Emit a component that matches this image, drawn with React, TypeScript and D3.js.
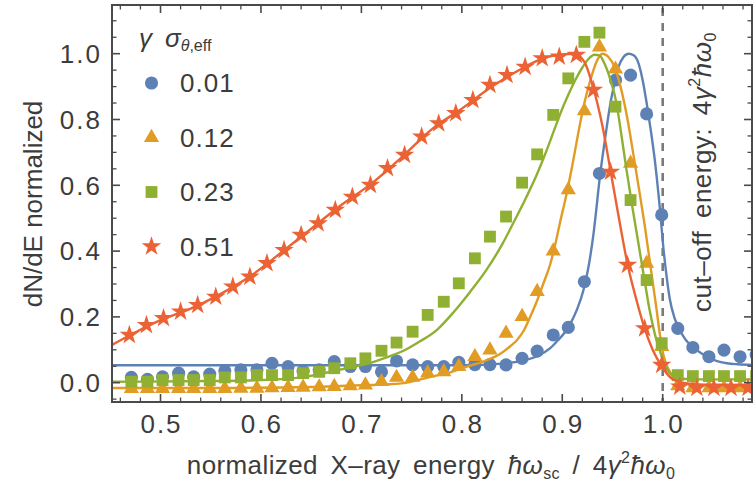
import React from 'react';
import * as d3 from 'd3';

// ---------- data ----------
const gridX = [0.471, 0.487, 0.502, 0.518, 0.533, 0.549, 0.564, 0.580, 0.596, 0.611, 0.627, 0.642, 0.658, 0.673, 0.689, 0.704, 0.720, 0.735, 0.751, 0.766, 0.782, 0.797, 0.813, 0.828, 0.844, 0.860, 0.875, 0.891, 0.906, 0.922, 0.937, 0.953, 0.968, 0.984, 0.999, 1.015, 1.030, 1.046, 1.061, 1.077, 1.093];

const blueY = [0.016, 0.010, 0.018, 0.029, 0.018, 0.026, 0.036, 0.039, 0.039, 0.059, 0.049, 0.035, 0.039, 0.064, 0.049, 0.049, 0.033, 0.066, 0.054, 0.049, 0.049, 0.062, 0.055, 0.055, 0.054, 0.074, 0.096, 0.145, 0.168, 0.307, 0.636, 0.92, 0.935, 0.817, 0.51, 0.165, 0.107, 0.079, 0.099, 0.079, 0.085];

const orangeY = [-0.018, -0.018, -0.018, -0.018, -0.018, -0.018, -0.018, -0.017, -0.017, -0.016, -0.015, -0.014, -0.013, -0.012, -0.010, -0.007, 0.003, 0.016, 0.016, 0.029, 0.033, 0.049, 0.079, 0.099, 0.150, 0.201, 0.277, 0.400, 0.586, 0.826, 1.02, 0.953, 0.667, 0.363, 0.11, -0.010, -0.016, -0.016, -0.016, -0.016, -0.016];

const greenY = [0.003, 0.003, 0.008, 0.008, 0.008, 0.008, 0.016, 0.016, 0.023, 0.023, 0.023, 0.029, 0.033, 0.044, 0.059, 0.074, 0.097, 0.122, 0.155, 0.206, 0.246, 0.302, 0.378, 0.444, 0.505, 0.608, 0.694, 0.814, 0.925, 1.036, 1.064, 0.839, 0.555, 0.312, 0.12, 0.023, 0.020, 0.020, 0.020, 0.020, 0.020];

const redX = [0.469, 0.486, 0.503, 0.520, 0.537, 0.555, 0.572, 0.589, 0.606, 0.623, 0.640, 0.657, 0.674, 0.691, 0.709, 0.726, 0.743, 0.760, 0.777, 0.794, 0.811, 0.828, 0.845, 0.863, 0.880, 0.897, 0.914, 0.931, 0.948, 0.965, 0.982, 0.999, 1.017, 1.034, 1.051, 1.068, 1.085];
const redY = [0.145, 0.175, 0.196, 0.216, 0.236, 0.261, 0.292, 0.322, 0.363, 0.403, 0.449, 0.484, 0.525, 0.565, 0.601, 0.652, 0.692, 0.748, 0.788, 0.819, 0.859, 0.905, 0.935, 0.960, 0.986, 0.991, 0.996, 0.890, 0.641, 0.358, 0.165, 0.054, -0.012, -0.016, -0.016, -0.016, -0.016];

// fit curves
const blueFitX = [0.4517, 0.80, 0.84, 0.862, 0.876, 0.888, 0.896, 0.903, 0.909, 0.915, 0.921, 0.926, 0.931, 0.938, 0.943, 0.948, 0.952, 0.956, 0.961, 0.966, 0.971, 0.976, 0.980, 0.984, 0.988, 0.992, 0.997, 1.001, 1.004, 1.007, 1.012, 1.017, 1.023, 1.030, 1.038, 1.047, 1.055, 1.064, 1.075, 1.089];
const blueFitY = [0.053, 0.053, 0.058, 0.068, 0.082, 0.105, 0.13, 0.155, 0.185, 0.225, 0.28, 0.35, 0.45, 0.64, 0.75, 0.85, 0.91, 0.96, 0.99, 1.0, 0.995, 0.97, 0.92, 0.85, 0.77, 0.68, 0.535, 0.40, 0.32, 0.255, 0.195, 0.16, 0.13, 0.109, 0.09, 0.074, 0.065, 0.059, 0.056, 0.054];

const orangeFitX = [0.4517, 0.55, 0.65, 0.70, 0.74, 0.772, 0.79, 0.805, 0.822, 0.838, 0.848, 0.855, 0.862, 0.868, 0.875, 0.881, 0.888, 0.893, 0.898, 0.904, 0.910, 0.916, 0.922, 0.928, 0.934, 0.940, 0.946, 0.952, 0.958, 0.965, 0.971, 0.977, 0.982, 0.988, 0.994, 0.997, 1.001, 1.006, 1.011, 1.020, 1.035, 1.089];
const orangeFitY = [-0.016, -0.016, -0.013, -0.008, -0.002, 0.02, 0.033, 0.049, 0.065, 0.087, 0.11, 0.13, 0.16, 0.20, 0.25, 0.30, 0.36, 0.42, 0.49, 0.57, 0.66, 0.76, 0.85, 0.92, 0.975, 1.0, 0.99, 0.96, 0.90, 0.80, 0.69, 0.577, 0.48, 0.35, 0.22, 0.15, 0.08, 0.04, 0.015, -0.002, -0.007, -0.008];

const greenFitX = [0.4517, 0.55, 0.60, 0.64, 0.672, 0.69, 0.709, 0.725, 0.742, 0.758, 0.775, 0.792, 0.808, 0.825, 0.841, 0.852, 0.862, 0.875, 0.883, 0.891, 0.899, 0.906, 0.913, 0.92, 0.926, 0.932, 0.937, 0.942, 0.948, 0.954, 0.959, 0.964, 0.970, 0.976, 0.982, 0.987, 0.992, 0.997, 1.002, 1.007, 1.015, 1.03, 1.089];
const greenFitY = [0.003, 0.005, 0.008, 0.016, 0.035, 0.047, 0.06, 0.077, 0.097, 0.125, 0.16, 0.215, 0.275, 0.345, 0.425, 0.49, 0.55, 0.635, 0.695, 0.76, 0.825, 0.875, 0.92, 0.958, 0.984, 0.997, 0.995, 0.97, 0.92, 0.849, 0.75, 0.646, 0.53, 0.42, 0.31, 0.22, 0.15, 0.099, 0.055, 0.029, 0.015, 0.01, 0.01];

const redFitX = [0.4517, 0.47, 0.50, 0.53, 0.56, 0.59, 0.62, 0.65, 0.68, 0.71, 0.74, 0.77, 0.80, 0.83, 0.86, 0.88, 0.90, 0.912, 0.922, 0.931, 0.940, 0.948, 0.957, 0.965, 0.974, 0.982, 0.990, 0.999, 1.008, 1.020, 1.040, 1.089];
const redFitY = [0.115, 0.145, 0.19, 0.225, 0.27, 0.325, 0.395, 0.468, 0.54, 0.605, 0.685, 0.77, 0.833, 0.9, 0.955, 0.985, 0.998, 1.0, 0.975, 0.895, 0.78, 0.645, 0.49, 0.36, 0.25, 0.165, 0.10, 0.05, 0.015, 0.0, -0.006, -0.007];

const legendLabels = ['0.01', '0.12', '0.23', '0.51'];
const xTicks = [0.5, 0.6, 0.7, 0.8, 0.9, 1.0];
const yTicks = [0.0, 0.2, 0.4, 0.6, 0.8, 1.0];
const cutoff = 1.0;

// ---------- style ----------
const W = 756, H = 495;
const L = 112, R = 752, T = 5, B = 402;
const COLORS = ['#5E81B5', '#E19C24', '#8FB032', '#EB6235'];
const FONT = '"Liberation Sans", Arial, sans-serif';
const TXT = '#3c3c3c';
const FRAME = '#4a4a4a';

const x = d3.scaleLinear().domain([0.4517, 1.0889]).range([L, R]);
const y = d3.scaleLinear().domain([-0.0587, 1.148]).range([B, T]);

const symCircle = d3.symbol(d3.symbolCircle, 135)();
const symTri = d3.symbol(d3.symbolTriangle, 100)();
const symSq = d3.symbol(d3.symbolSquare, 140)();
const symStar = d3.symbol(d3.symbolStar, 118)();
const SYMS = [symCircle, symTri, symSq, symStar];

const line = d3.line<[number, number]>()
  .x((d) => x(d[0]))
  .y((d) => y(d[1]))
  .curve(d3.curveMonotoneX);

function zip(a: number[], b: number[]): [number, number][] {
  return a.map((v, i) => [v, b[i]] as [number, number]);
}

const series = [
  { pts: zip(gridX, blueY), fit: zip(blueFitX, blueFitY) },
  { pts: zip(gridX, orangeY), fit: zip(orangeFitX, orangeFitY) },
  { pts: zip(gridX, greenY), fit: zip(greenFitX, greenFitY) },
  { pts: zip(redX, redY), fit: zip(redFitX, redFitY) },
];

const xMinor = d3.range(0.46, 1.0851, 0.02).filter((v) => !xTicks.some((t) => Math.abs(t - v) < 1e-6));
const yMinor = d3.range(-0.05, 1.1001, 0.05).filter((v) => !yTicks.some((t) => Math.abs(t - v) < 1e-6));

export default function App() {
  const MAJ = 8, MIN = 4.5;
  const NUM = { fontSize: 26, letterSpacing: 2 } as const;
  return (
    <svg width={W} height={H} style={{ position: 'absolute', left: 0, top: 0, background: '#fff' }} fontFamily={FONT}>
      <defs>
        <clipPath id="plot">
          <rect x={L} y={T} width={R - L} height={B - T} />
        </clipPath>
      </defs>
      <rect x={0} y={0} width={W} height={H} fill="#fff" />

      <g clipPath="url(#plot)">
        {/* cut-off dashed line */}
        <line x1={x(cutoff)} x2={x(cutoff)} y1={T} y2={B} stroke="#7a7a7a" strokeWidth={2.6} strokeDasharray="8,7" strokeDashoffset={-3} />
        {series.map((s, i) => (
          <g key={i}>
            <path d={line(s.fit) || ''} fill="none" stroke={COLORS[i]} strokeWidth={2.4} />
            {s.pts.map((p, j) => (
              <path key={j} d={SYMS[i] || ''} transform={`translate(${x(p[0])},${y(p[1])})`} fill={COLORS[i]} />
            ))}
          </g>
        ))}
      </g>

      {/* frame */}
      <rect x={L} y={T} width={R - L} height={B - T} fill="none" stroke={FRAME} strokeWidth={2} />
      {xTicks.map((t) => (
        <g key={'xt' + t}>
          <line x1={x(t)} x2={x(t)} y1={B} y2={B - MAJ} stroke={FRAME} strokeWidth={1.6} />
          <line x1={x(t)} x2={x(t)} y1={T} y2={T + MAJ} stroke={FRAME} strokeWidth={1.6} />
          <text x={x(t) + 1} y={433} textAnchor="middle" {...NUM} fill={TXT}>{t.toFixed(1)}</text>
        </g>
      ))}
      {xMinor.map((t) => (
        <g key={'xm' + t}>
          <line x1={x(t)} x2={x(t)} y1={B} y2={B - MIN} stroke={FRAME} strokeWidth={1.3} />
          <line x1={x(t)} x2={x(t)} y1={T} y2={T + MIN} stroke={FRAME} strokeWidth={1.3} />
        </g>
      ))}
      {yTicks.map((t) => (
        <g key={'yt' + t}>
          <line x1={L} x2={L + MAJ} y1={y(t)} y2={y(t)} stroke={FRAME} strokeWidth={1.6} />
          <line x1={R} x2={R - MAJ} y1={y(t)} y2={y(t)} stroke={FRAME} strokeWidth={1.6} />
          <text x={102} y={y(t)} dy="0.36em" textAnchor="end" {...NUM} fill={TXT}>{t.toFixed(1)}</text>
        </g>
      ))}
      {yMinor.map((t) => (
        <g key={'ym' + t}>
          <line x1={L} x2={L + MIN} y1={y(t)} y2={y(t)} stroke={FRAME} strokeWidth={1.3} />
          <line x1={R} x2={R - MIN} y1={y(t)} y2={y(t)} stroke={FRAME} strokeWidth={1.3} />
        </g>
      ))}

      {/* axis labels */}
      <text transform="translate(42,204) rotate(-90)" textAnchor="middle" fontSize={26} fill={TXT}>dN/dE normalized</text>
      <text x={431} y={474} textAnchor="middle" fontSize={26} letterSpacing={0.4} wordSpacing={5} fill={TXT}>
        normalized X–ray energy <tspan fontStyle="italic">ħω</tspan>
        <tspan fontSize={16} dy={5}>sc</tspan>
        <tspan dy={-5}> / 4</tspan>
        <tspan fontStyle="italic">γ</tspan>
        <tspan fontSize={16} dy={-11}>2</tspan>
        <tspan fontStyle="italic" dy={11}>ħω</tspan>
        <tspan fontSize={16} dy={5}>0</tspan>
      </text>

      {/* cut-off label */}
      <text transform="translate(711,172) rotate(-90)" textAnchor="middle" fontSize={26} letterSpacing={0.5} wordSpacing={5} fill={TXT}>
        cut–off energy: 4<tspan fontStyle="italic">γ</tspan>
        <tspan fontSize={16} dy={-11}>2</tspan>
        <tspan fontStyle="italic" dy={11}>ħω</tspan>
        <tspan fontSize={16} dy={5}>0</tspan>
      </text>

      {/* legend */}
      <text x={139} y={47} fontSize={26} fontStyle="italic" fill={TXT}>γ</text>
      <text x={165} y={47} fontSize={26} fill={TXT}>
        <tspan fontStyle="italic">σ</tspan>
        <tspan fontSize={16} dy={4} fontStyle="italic">θ</tspan>
        <tspan fontSize={16}>,eff</tspan>
      </text>
      {legendLabels.map((lab, i) => {
        const ly = 83 + i * 54.5;
        return (
          <g key={lab}>
            <path d={SYMS[i] || ''} transform={`translate(151.5,${ly})`} fill={COLORS[i]} />
            <text x={180} y={ly} dy="0.36em" fontSize={26} letterSpacing={1} fill={TXT}>{lab}</text>
          </g>
        );
      })}
    </svg>
  );
}
